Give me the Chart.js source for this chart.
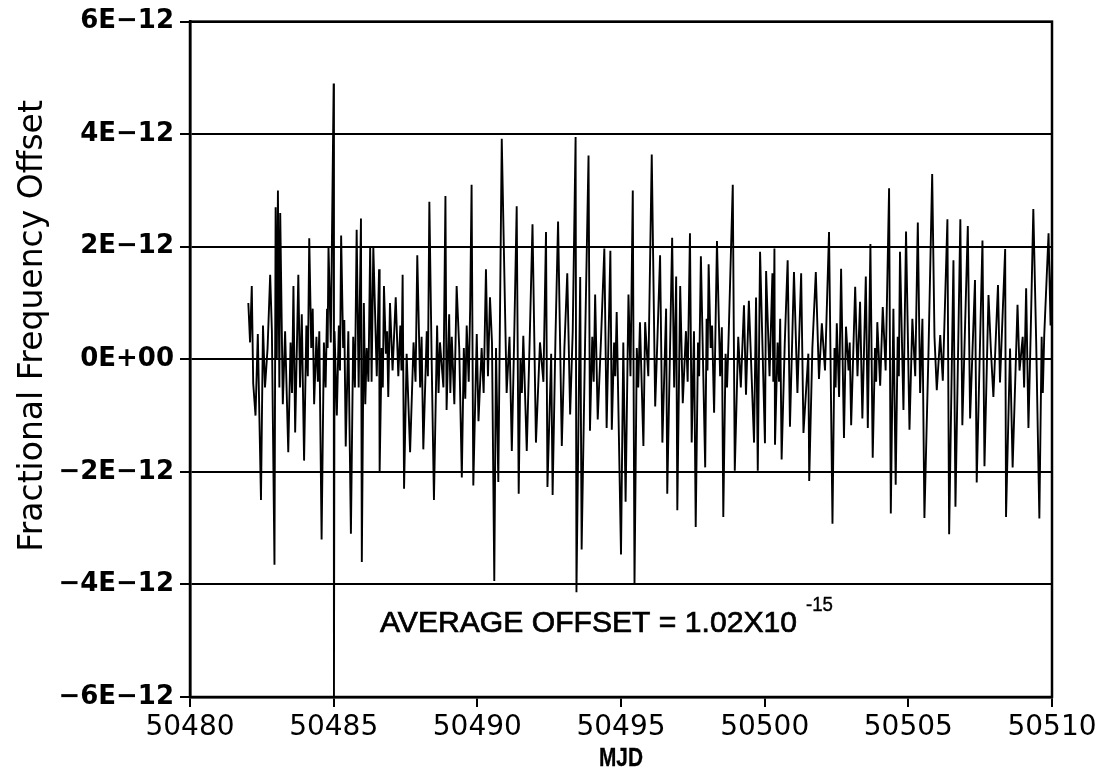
<!DOCTYPE html>
<html>
<head>
<meta charset="utf-8">
<script src="https://cdn.jsdelivr.net/npm/chart.js@4.4.1/dist/chart.umd.min.js"></script>
<style>
  html, body { margin: 0; padding: 0; background: #fff; }
</style>
</head>
<body>
<canvas id="graph" width="1106" height="781"></canvas>
<script>
// fractional frequency offset in units of 1E-12, split in three stretches of MJD
const mjdA = [
  50482.03, 50482.09, 50482.15, 50482.20, 50482.28, 50482.36, 50482.47, 50482.54, 50482.61, 50482.70,
  50482.79, 50482.85, 50482.94, 50482.98, 50483.02, 50483.06, 50483.11, 50483.14, 50483.23, 50483.31,
  50483.42, 50483.50, 50483.55, 50483.60, 50483.66, 50483.77, 50483.83, 50483.89, 50483.97, 50484.05,
  50484.10, 50484.15, 50484.22, 50484.27, 50484.32, 50484.40, 50484.45, 50484.50, 50484.58, 50484.66,
  50484.72, 50484.77, 50484.79, 50484.82, 50484.90, 50485.00, 50485.01, 50485.03, 50485.11, 50485.18,
  50485.22, 50485.26, 50485.33, 50485.37, 50485.42, 50485.51, 50485.60, 50485.68, 50485.74, 50485.80,
  50485.87, 50485.95, 50485.98, 50486.05, 50486.10, 50486.15, 50486.21, 50486.27, 50486.32, 50486.38,
  50486.50, 50486.58, 50486.60, 50486.67, 50486.71, 50486.75, 50486.82, 50486.86, 50486.90, 50486.96,
  50487.05, 50487.16, 50487.25, 50487.32, 50487.36, 50487.40, 50487.45, 50487.54, 50487.66, 50487.78,
  50487.85, 50487.91, 50488.01, 50488.06, 50488.12, 50488.24, 50488.28, 50488.33, 50488.41, 50488.49,
  50488.60, 50488.65, 50488.70, 50488.82, 50488.89, 50488.93, 50489.02, 50489.06, 50489.11, 50489.20,
  50489.28, 50489.37, 50489.46, 50489.53, 50489.58, 50489.63, 50489.70, 50489.75
];
const offsetA = [
  1.0, 0.3, 1.3, -0.43, -1.0, 0.45, -2.5, 0.6, -0.5, 0.2,
  1.5, 0.5, -3.65, 2.7, 0.0, 3.0, -0.5, 2.6, -0.8, 0.5,
  -1.65, 0.3, -0.6, 1.3, -1.3, 1.5, -0.5, 0.8, -1.8, 0.6,
  -0.3, 2.15, 0.2, 0.9, -0.8, 0.4, -0.4, 0.5, -3.2, 0.3,
  -0.5, 0.9, 0.2, 2.0, 0.3, 4.9, -6.0, 0.5, -1.0, 0.6,
  -0.2, 2.2, 0.2, 0.7, -1.55, 0.5, -3.1, 0.4, -0.5, 2.3,
  -0.5, 2.5, -3.6, 1.0, -0.8, 0.2, -0.4, 2.0, -0.4, 2.0,
  -0.3, 1.6, -2.0, 0.2, -0.5, 1.3, 0.1, 0.5, -0.67, 1.0,
  -0.2, 1.1, -0.3, 0.6, -0.2, 1.5, -2.3, 0.1, -1.65, 0.3,
  -0.4, 1.85, -0.5, 0.4, -1.6, 0.5, -0.3, 2.8, 0.0, -2.5,
  0.6, -0.6, 0.3, -0.5, 2.9, -0.9, 0.8, -0.6, 0.4, -0.8,
  1.3, 0.2, -2.1, 0.2, -0.7, 0.6, -0.4, 0.9
];

const mjdB = [
  50489.80, 50489.86, 50489.98, 50490.04, 50490.15, 50490.22, 50490.30, 50490.37, 50490.44, 50490.51,
  50490.59, 50490.65, 50490.73, 50490.85, 50491.02, 50491.12, 50491.20, 50491.28, 50491.37, 50491.44,
  50491.50, 50491.55, 50491.60, 50491.72, 50491.82, 50491.92, 50492.04, 50492.18, 50492.30, 50492.39,
  50492.44, 50492.57, 50492.62, 50492.72, 50492.81, 50492.94, 50493.03, 50493.13, 50493.23, 50493.32,
  50493.42, 50493.45, 50493.58, 50493.63, 50493.75, 50493.87, 50493.92, 50494.00, 50494.05, 50494.10,
  50494.19, 50494.30, 50494.42, 50494.50, 50494.63, 50494.68, 50494.76, 50494.80, 50494.85, 50495.00,
  50495.08, 50495.16, 50495.26, 50495.33, 50495.41, 50495.47, 50495.55, 50495.60, 50495.66, 50495.78,
  50495.84, 50495.95, 50496.07, 50496.19, 50496.27, 50496.36, 50496.44, 50496.57, 50496.61, 50496.78,
  50496.85, 50496.92, 50496.96, 50497.06, 50497.15, 50497.26, 50497.32, 50497.40, 50497.46, 50497.54,
  50497.60, 50497.68, 50497.72, 50497.78, 50497.93, 50497.98, 50498.01, 50498.05, 50498.12, 50498.17,
  50498.24, 50498.34, 50498.45, 50498.51, 50498.56, 50498.64, 50498.69, 50498.74, 50498.89, 50498.96,
  50499.08, 50499.17, 50499.28, 50499.35, 50499.45, 50499.63, 50499.70, 50499.76
];
const offsetB = [
  3.1, -2.24, 0.45, -1.1, 0.2, -0.6, 1.6, -0.3, 1.1, 0.3,
  -3.94, 0.2, -2.18, 3.92, -0.6, 0.4, -1.63, 0.3, 2.72, -2.39,
  0.0, -0.6, 0.42, -1.63, 0.3, 2.4, -1.48, 0.3, -0.4, 2.26,
  -2.27, 0.1, -2.41, 0.4, 2.45, -1.54, 0.2, 1.53, -0.98, 0.5,
  3.95, -4.14, 1.46, -3.38, 0.3, 3.62, -1.27, 0.4, -0.4, 1.15,
  -1.07, 0.3, 1.97, -1.22, 1.93, -1.25, 0.3, -0.3, 0.84, -3.47,
  0.3, -2.53, 1.15, -0.3, 3.0, -4.0, 0.2, -0.5, 0.66, -1.54,
  0.66, -0.3, 3.64, -0.84, 0.4, 1.85, -1.48, 0.9, -2.39, 2.16,
  -0.5, 1.47, -2.68, 1.3, -0.78, 0.5, -0.4, 2.24, -1.48, 0.5,
  -2.98, 0.3, -0.3, 1.83, -1.92, 0.72, -0.2, 1.69, 0.2, 0.6,
  -0.95, 2.1, -0.3, 0.57, -2.8, 0.1, -0.5, 0.3, 3.1, -1.98,
  0.4, -0.5, 0.96, -0.63, 1.04, -1.48, 1.1, -1.98
];

const mjdC = [
  50499.84, 50500.01, 50500.05, 50500.17, 50500.27, 50500.30, 50500.34, 50500.36, 50500.45, 50500.50,
  50500.54, 50500.59, 50500.70, 50500.80, 50500.88, 50501.02, 50501.14, 50501.27, 50501.35, 50501.52,
  50501.55, 50501.66, 50501.78, 50501.89, 50501.99, 50502.10, 50502.24, 50502.36, 50502.43, 50502.47,
  50502.51, 50502.59, 50502.66, 50502.76, 50502.83, 50502.92, 50502.96, 50503.01, 50503.15, 50503.23,
  50503.32, 50503.40, 50503.52, 50503.59, 50503.68, 50503.76, 50503.84, 50503.88, 50503.92, 50504.02,
  50504.11, 50504.21, 50504.33, 50504.39, 50504.48, 50504.56, 50504.63, 50504.67, 50504.71, 50504.83,
  50504.92, 50505.04, 50505.14, 50505.24, 50505.33, 50505.41, 50505.49, 50505.56, 50505.70, 50505.83,
  50505.91, 50505.99, 50506.11, 50506.20, 50506.36, 50506.42, 50506.57, 50506.64, 50506.81, 50506.88,
  50507.07, 50507.15, 50507.32, 50507.38, 50507.58, 50507.65, 50507.79, 50507.87, 50507.96, 50508.12,
  50508.19, 50508.37, 50508.40, 50508.54, 50508.63, 50508.80, 50508.87, 50508.98, 50509.03, 50509.10,
  50509.18, 50509.26, 50509.35, 50509.45, 50509.56, 50509.64, 50509.68, 50509.73, 50509.88, 50509.95,
  50510.00
];
const offsetC = [
  1.91, -1.49, 1.57, -0.3, 1.53, -0.4, 1.97, -1.52, 0.3, -0.4,
  0.72, -1.78, 0.3, 1.76, -1.2, 1.55, -0.6, 1.53, -1.31, 0.1,
  -2.16, 0.2, 1.55, -0.35, 0.64, -0.2, 2.26, -2.92, 0.2, -0.5,
  0.64, -0.67, 1.61, -1.4, 0.58, -0.2, 0.3, -1.17, 1.29, -0.3,
  1.02, -1.05, 1.47, -1.22, 2.05, -1.75, 0.2, -0.4, 0.66, -0.47,
  0.93, -0.2, 3.04, -2.74, 0.9, -2.23, 0.4, -0.3, 1.91, -0.9,
  2.27, -1.25, 0.72, -0.3, 2.43, -0.6, 0.72, -2.82, 0.1, 3.29,
  0.4, -0.55, 0.43, -0.38, 2.49, -3.11, 1.76, -2.62, 2.49, -1.17,
  2.37, -1.05, 1.41, -2.19, 2.11, -1.9, 1.14, 0.2, -0.67, 1.32,
  -0.41, 1.96, -2.8, 0.19, -1.92, 0.97, -0.2, 0.4, -0.5, 1.26,
  -1.22, 0.5, 2.67, 0.3, -2.83, 0.4, -0.6, 0.43, 2.24, 0.6,
  1.8
];

const yTicks = [-6, -4, -2, 0, 2, 4, 6];
const yTickLabels = ['\u22126E\u221212', '\u22124E\u221212', '\u22122E\u221212', '0E+00', '2E\u221212', '4E\u221212', '6E\u221212'];
const xTicks = [50480, 50485, 50490, 50495, 50500, 50505, 50510];
const xTitle = 'MJD';
const yTitle = 'Fractional Frequency Offset';
const avgText = 'AVERAGE OFFSET = 1.02X10';
const avgExp = '-15';

const mjd = mjdA.concat(mjdB, mjdC);
const offset = offsetA.concat(offsetB, offsetC);
const points = mjd.map((m, i) => ({ x: m, y: offset[i] }));

// closes the box on the top and right sides
const frame = {
  id: 'frame',
  afterDraw(chart) {
    const { ctx, chartArea: a } = chart;
    ctx.save();
    ctx.strokeStyle = '#000';
    ctx.lineWidth = 2.5;
    ctx.strokeRect(a.left, a.top, a.right - a.left, a.bottom - a.top);
    ctx.restore();
  }
};

// narrow text helper: squeezes a string to the given width
function narrowText(ctx, text, x, y, width) {
  const w = ctx.measureText(text).width;
  ctx.save();
  ctx.translate(x, y);
  ctx.scale(width / w, 1);
  ctx.fillText(text, 0, 0);
  ctx.strokeText(text, 0, 0);
  ctx.restore();
}

// axis captions and the average offset note
const notes = {
  id: 'notes',
  afterDraw(chart) {
    const ctx = chart.ctx;
    const xs = chart.scales.x;
    ctx.save();
    ctx.fillStyle = '#000';
    ctx.strokeStyle = '#000';
    ctx.textBaseline = 'alphabetic';

    ctx.font = 'bold 26px "Liberation Sans"';
    ctx.lineWidth = 0.3;
    const cx = xs.getPixelForValue(50495);
    narrowText(ctx, xTitle, cx - 22, 766, 44);

    ctx.font = '29px "Liberation Sans"';
    ctx.lineWidth = 0.7;
    narrowText(ctx, avgText, 380, 632, 417);

    ctx.font = '20px "Liberation Sans"';
    ctx.lineWidth = 0.4;
    narrowText(ctx, avgExp, 806, 611, 27);

    // vertical caption of the y axis
    ctx.save();
    ctx.translate(33, 326);
    ctx.rotate(-Math.PI / 2);
    ctx.font = '33px "DejaVu Sans"';
    ctx.textAlign = 'center';
    ctx.textBaseline = 'middle';
    ctx.fillText(yTitle, 0, 0);
    ctx.restore();

    ctx.restore();
  }
};

const ctx = document.getElementById('graph').getContext('2d');
new Chart(ctx, {
  type: 'line',
  data: {
    datasets: [{
      data: points,
      borderColor: '#000',
      borderWidth: 1.9,
      pointRadius: 0,
      tension: 0,
      fill: false
    }]
  },
  options: {
    responsive: false,
    animation: false,
    devicePixelRatio: 1,
    layout: { padding: { top: 19, right: 54, left: 0, bottom: 0 } },
    plugins: { legend: { display: false }, tooltip: { enabled: false } },
    scales: {
      x: {
        type: 'linear',
        min: 50480,
        max: 50510,
        afterBuildTicks: (scale) => { scale.ticks = xTicks.map(v => ({ value: v })); },
        afterFit: (scale) => { scale.height = 84; },
        grid: { drawOnChartArea: false, drawTicks: true, tickLength: 10, color: '#000', lineWidth: 2 },
        border: { display: true, color: '#000', width: 2.5 },
        ticks: {
          color: '#000',
          padding: 4,
          maxRotation: 0,
          font: { family: 'DejaVu Sans', size: 28 },
          callback: (v) => String(v)
        }
      },
      y: {
        min: -6,
        max: 6,
        afterBuildTicks: (scale) => { scale.ticks = yTicks.map(v => ({ value: v })); },
        afterFit: (scale) => { scale.width = 190; },
        grid: { drawOnChartArea: true, drawTicks: true, tickLength: 10, color: '#000', lineWidth: 2 },
        border: { display: true, color: '#000', width: 2.5 },
        ticks: {
          color: '#000',
          padding: 6,
          font: { family: 'DejaVu Sans', size: 26, weight: 'bold' },
          callback: (v) => yTickLabels[yTicks.indexOf(v)]
        }
      }
    }
  },
  plugins: [frame, notes]
});
</script>
</body>
</html>
